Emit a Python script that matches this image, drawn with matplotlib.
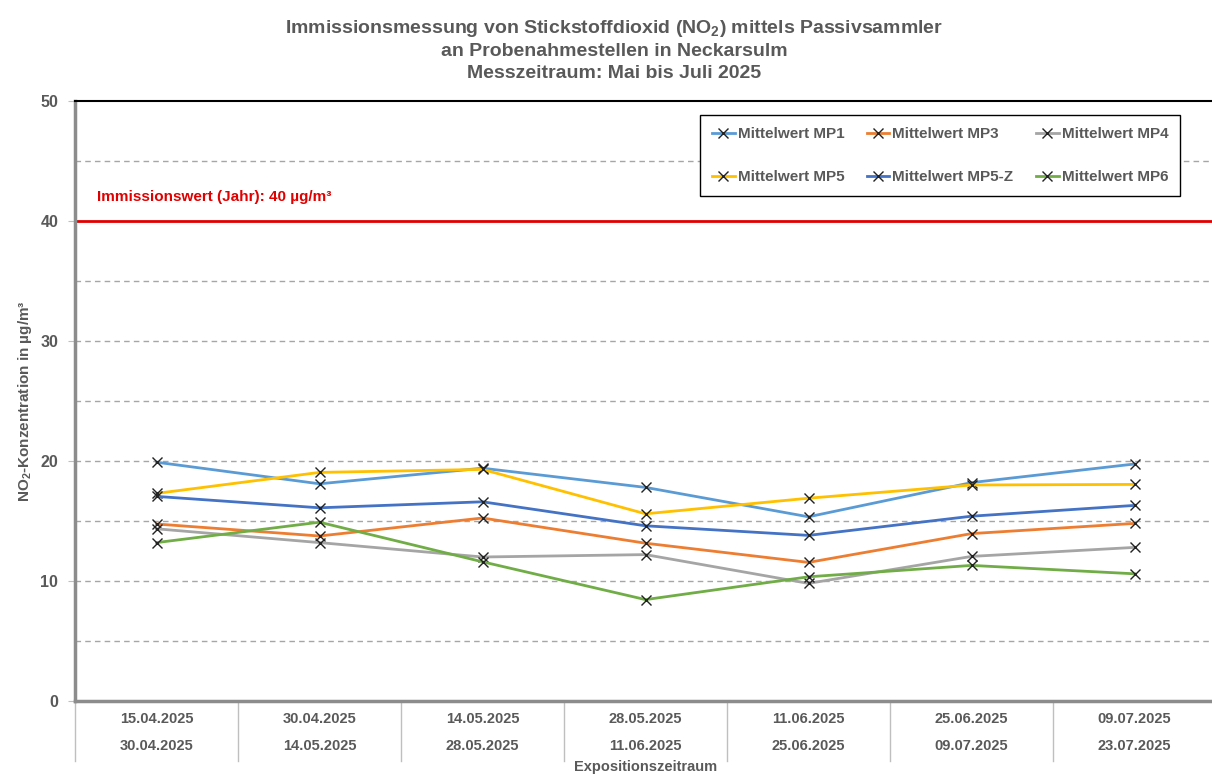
# Nachbau des NO2-Diagramms (Passivsammler Neckarsulm)
import matplotlib
matplotlib.use("Agg")
import matplotlib.pyplot as plt
from matplotlib.lines import Line2D

plt.rcParams['font.family'] = ['Liberation Sans', 'DejaVu Sans']
plt.rcParams['mathtext.default'] = 'regular'

# Daten
von = ['15.04.2025', '30.04.2025', '14.05.2025', '28.05.2025', '11.06.2025', '25.06.2025', '09.07.2025']
bis = ['30.04.2025', '14.05.2025', '28.05.2025', '11.06.2025', '25.06.2025', '09.07.2025', '23.07.2025']

mp1 = [19.9, 18.1, 19.4, 17.8, 15.35, 18.2, 19.75]
mp3 = [14.75, 13.75, 15.25, 13.15, 11.55, 13.95, 14.8]
mp4 = [14.35, 13.2, 12.0, 12.2, 9.8, 12.05, 12.8]
mp5 = [17.3, 19.05, 19.3, 15.6, 16.9, 18.0, 18.05]
mp5z = [17.05, 16.1, 16.6, 14.6, 13.8, 15.4, 16.3]
mp6 = [13.2, 14.9, 11.6, 8.45, 10.35, 11.3, 10.6]

namen = ['Mittelwert MP1', 'Mittelwert MP3', 'Mittelwert MP4',
         'Mittelwert MP5', 'Mittelwert MP5-Z', 'Mittelwert MP6']
reihen = [mp1, mp3, mp4, mp5, mp5z, mp6]
farben = ['#5B9BD5', '#ED7D31', '#A5A5A5', '#FFC000', '#4472C4', '#70AD47']

grenzwert = 40
grau = '#595959'

fig = plt.figure(figsize=(12.12, 7.81), dpi=100)
ax = fig.add_axes([75 / 1212, 1 - 701 / 781, 1141 / 1212, 600 / 781])

x = list(range(len(von)))
for werte, farbe, name in zip(reihen, farben, namen):
    ax.plot(x, werte, color=farbe, lw=2, marker='x', ms=7, mec='#222222',
            mew=1.0, label=name, zorder=3)

# Grenzwert
ax.axhline(grenzwert, color='#E00000', lw=2, zorder=2)
ax.text(-0.365, 42, 'Immissionswert (Jahr): 40 µg/m³', color='#E00000',
        fontsize=11, fontweight='bold', va='center', ha='left')

# Gitterlinien alle 5
for g in [5, 10, 15, 20, 25, 30, 35, 45]:
    ax.axhline(g, color='#A6A6A6', lw=1, ls=(0, (4, 3)), zorder=1)

ax.set_xlim(-0.5, 6.5)
ax.set_ylim(0, 50)
ax.set_yticks([0, 10, 20, 30, 40, 50])
ax.set_yticklabels(['0', '10', '20', '30', '40', '50'], fontsize=11.5,
                   fontweight='bold', color=grau)
ax.tick_params(axis='y', length=5, color='#BFBFBF', pad=7)
ax.set_xticks([])

ax.spines['right'].set_visible(False)
ax.spines['top'].set_color('black')
ax.spines['top'].set_linewidth(1.5)
ax.spines['left'].set_color('#8C8C8C')
ax.spines['left'].set_linewidth(2.5)
ax.spines['bottom'].set_color('#8C8C8C')
ax.spines['bottom'].set_linewidth(2.5)

# x-Beschriftung in zwei Zeilen mit Trennstrichen
tr = ax.get_xaxis_transform()
for i in x:
    ax.text(i, -0.03, von[i], transform=tr, ha='center', va='center',
            fontsize=10.5, fontweight='bold', color=grau)
    ax.text(i, -0.075, bis[i], transform=tr, ha='center', va='center',
            fontsize=10.5, fontweight='bold', color=grau)
for i in range(len(von) + 1):
    ax.plot([i - 0.5, i - 0.5], [0, -0.1], transform=tr, color='#BFBFBF',
            lw=1, clip_on=False)

ax.text(0.5, -0.11, 'Expositionszeitraum', transform=ax.transAxes, ha='center',
        va='center', fontsize=10.5, fontweight='bold', color=grau)
ax.set_ylabel('NO$_2$-Konzentration in µg/m³', fontsize=11, fontweight='bold',
              color=grau)
ax.yaxis.set_label_coords(-0.036, 0.5)

# Titel
fig.text(614 / 1212, 1 - 50 / 781,
         'Immissionsmessung von Stickstoffdioxid (NO$_2$) mittels Passivsammler\n'
         'an Probenahmestellen in Neckarsulm\n'
         'Messzeitraum: Mai bis Juli 2025',
         ha='center', va='center', fontsize=14, fontweight='bold', color=grau,
         linespacing=1.35)

# Legende (zeilenweise Reihenfolge)
reihenfolge = [0, 3, 1, 4, 2, 5]
griffe = [Line2D([], [], color=farben[k], lw=2, marker='x', ms=7, mec='#222222',
                 mew=1.0) for k in reihenfolge]
leg = ax.legend(griffe, [namen[k] for k in reihenfolge], ncol=3,
                loc='center', bbox_to_anchor=(0.5408, 0.8367, 0.4347, 0.145),
                mode='expand', fancybox=False, edgecolor='black', framealpha=1,
                handlelength=1.5, handletextpad=0.2, labelspacing=1.9,
                borderpad=0.8, prop={'size': 11, 'weight': 'bold'})
leg.get_frame().set_linewidth(1.0)
for t in leg.get_texts():
    t.set_color(grau)

fig.savefig('out.png', dpi=100)
plt.close()
